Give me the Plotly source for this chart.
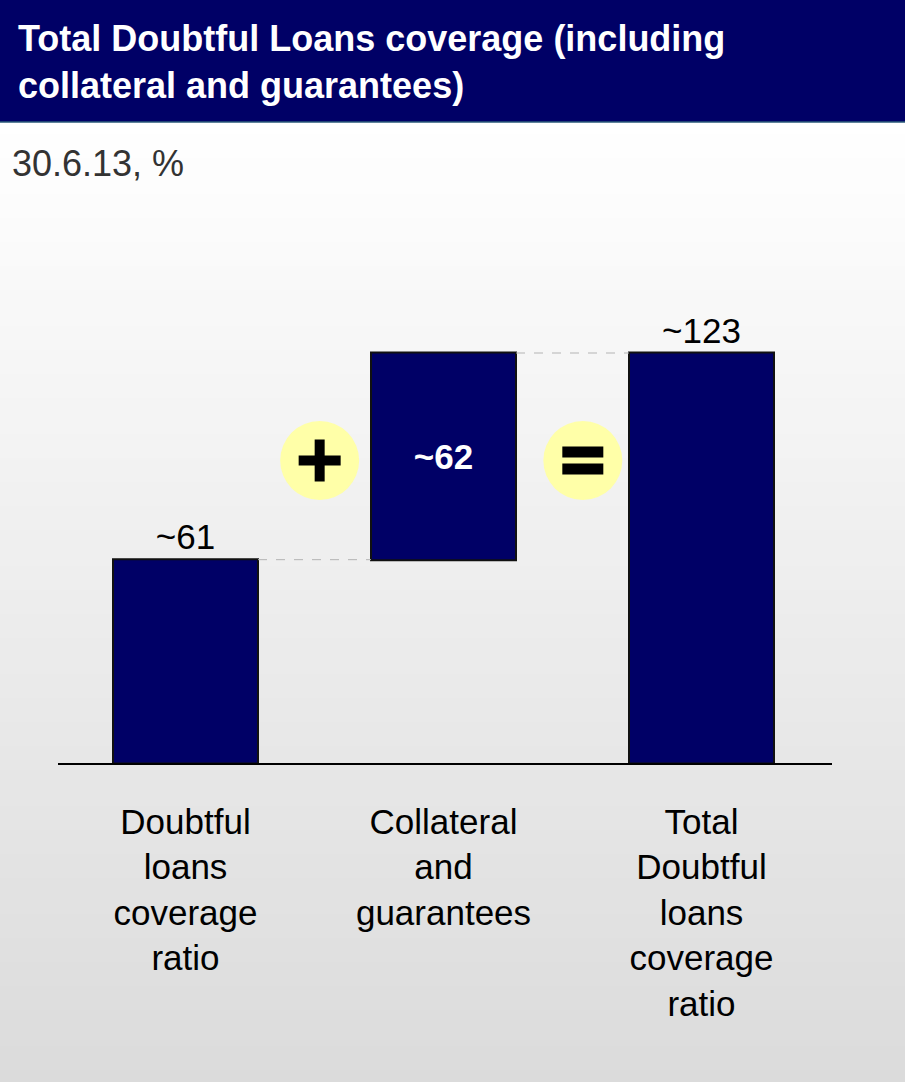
import plotly.graph_objects as go

# ---------------- data ----------------
categories = [
    "Doubtful<br>loans<br>coverage<br>ratio",
    "Collateral<br>and<br>guarantees",
    "Total<br>Doubtful<br>loans<br>coverage<br>ratio",
]
values = [61, 62, 123]
measures = ["relative", "relative", "total"]
value_labels = ["~61", "~62", "~123"]
label_positions = ["outside", "inside", "outside"]
operator_positions = [0.52, 1.54]   # between bars (category units)
operator_symbols = ["+", "="]
operator_height = 90.75             # value level of the operator circles

title_text = "Total Doubtful Loans coverage (including<br>collateral and guarantees)"
subtitle_text = "30.6.13, %"

# ---------------- layout helpers ----------------
W, H = 905, 1082
NAVY = "#000066"
FONT = "Arial, Liberation Sans, sans-serif"

def px_x(p):
    return p / W

def px_y(p):
    return 1 - p / H

base_px, top_px = 763, 200
px_per_unit = 410 / 123
ymax = (base_px - top_px) / px_per_unit

x_left_px, x_right_px = 58, 832
x_center0, x_step = 185.5, 258
xr = [(x_left_px - x_center0) / x_step, (x_right_px - x_center0) / x_step]

fig = go.Figure()

fig.add_trace(go.Waterfall(
    x=list(range(len(categories))),
    y=values,
    measure=measures,
    text=value_labels,
    textposition=label_positions,
    textinfo="text",
    insidetextanchor="middle",
    insidetextfont=dict(family=FONT, size=35, color="white", weight="bold"),
    outsidetextfont=dict(family=FONT, size=35, color="black"),
    constraintext="none",
    cliponaxis=False,
    width=[145 / x_step] * 3,
    increasing=dict(marker=dict(color=NAVY, line=dict(color="#111111", width=2))),
    decreasing=dict(marker=dict(color=NAVY, line=dict(color="#111111", width=2))),
    totals=dict(marker=dict(color=NAVY, line=dict(color="#111111", width=2))),
    connector=dict(mode="between", line=dict(color="#b4b4b4", width=1, dash="dash")),
    hoverinfo="skip",
    showlegend=False,
))

shapes = []
# background gradient
g_top, g_bot = 122, H
n = 80
c0, c1 = 255, 219
for i in range(n):
    a = g_top + (g_bot - g_top) * i / n
    b = g_top + (g_bot - g_top) * (i + 1) / n
    c = round(c0 + (c1 - c0) * (i + 0.5) / n)
    shapes.append(dict(type="rect", xref="paper", yref="paper", x0=0, x1=1,
                       y0=px_y(b) - 0.0005, y1=px_y(a), fillcolor=f"rgb({c},{c},{c})",
                       line=dict(width=0), layer="below"))
# header band
shapes.append(dict(type="rect", xref="paper", yref="paper", x0=0, x1=1,
                   y0=px_y(122), y1=1, fillcolor=NAVY, line=dict(width=0), layer="below"))
shapes.append(dict(type="line", xref="paper", yref="paper", x0=0, x1=1,
                   y0=px_y(122), y1=px_y(122), line=dict(color="#2a5a7a", width=1.5), layer="below"))

# operator circles and symbols
for xo, sym in zip(operator_positions, operator_symbols):
    common = dict(xref="x", yref="y", xsizemode="pixel", ysizemode="pixel",
                  xanchor=xo, yanchor=operator_height, layer="above")
    shapes.append(dict(type="circle", x0=-39.5, x1=39.5, y0=-39.5, y1=39.5,
                       fillcolor="#ffffa8", line=dict(width=0), **common))
    if sym == "+":
        shapes.append(dict(type="rect", x0=-21, x1=21, y0=-5, y1=5,
                           fillcolor="black", line=dict(width=0), **common))
        shapes.append(dict(type="rect", x0=-5, x1=5, y0=-21, y1=21,
                           fillcolor="black", line=dict(width=0), **common))
    else:
        shapes.append(dict(type="rect", x0=-20.5, x1=20.5, y0=3, y1=14,
                           fillcolor="black", line=dict(width=0), **common))
        shapes.append(dict(type="rect", x0=-20.5, x1=20.5, y0=-14, y1=-3,
                           fillcolor="black", line=dict(width=0), **common))

annotations = [
    dict(text="<b>" + title_text + "</b>", xref="paper", yref="paper",
         x=px_x(16), y=px_y(16), xanchor="left", yanchor="top", align="left",
         showarrow=False, font=dict(family=FONT, size=36, color="white")),
    dict(text=subtitle_text, xref="paper", yref="paper",
         x=px_x(10), y=px_y(141), xanchor="left", yanchor="top", align="left",
         showarrow=False, font=dict(family=FONT, size=36, color="#333333")),
]

fig.update_layout(
    width=W, height=H,
    margin=dict(l=0, r=0, t=0, b=0),
    paper_bgcolor="white",
    plot_bgcolor="rgba(0,0,0,0)",
    shapes=shapes,
    annotations=annotations,
    xaxis=dict(
        domain=[px_x(x_left_px), px_x(x_right_px)],
        range=xr,
        tickmode="array",
        tickvals=list(range(len(categories))),
        ticktext=categories,
        tickfont=dict(family=FONT, size=35, color="black"),
        showgrid=False, zeroline=False,
        showline=True, linecolor="black", linewidth=1.5,
        ticks="", ticklabelstandoff=27,
        fixedrange=True,
    ),
    yaxis=dict(
        domain=[px_y(base_px), px_y(top_px)],
        range=[0, ymax],
        visible=False,
        fixedrange=True,
    ),
)

fig.write_html("out.html", config=dict(displayModeBar=False),
               post_script="document.body.style.margin='0';document.body.style.padding='0';")
